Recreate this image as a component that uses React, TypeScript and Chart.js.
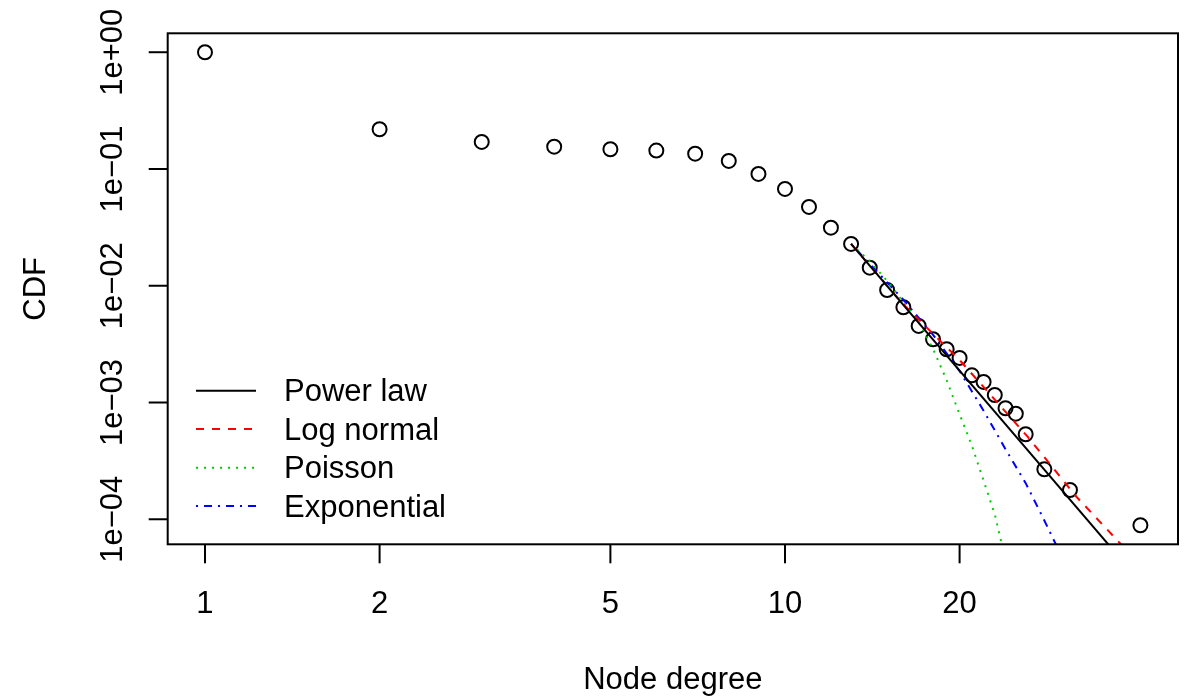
import React, { useEffect, useRef } from "react";
import { Chart, registerables } from "chart.js";

Chart.register(...registerables);

// Observed CDF (node degree vs CDF)
const degree = [1, 2, 3, 4, 5, 6, 7, 8, 9, 10, 11, 12, 13, 14, 15, 16, 17, 18, 19, 20, 21, 22, 23, 24, 25, 26, 28, 31, 41];
const cdf = [1, 0.219, 0.1705, 0.1553, 0.1476, 0.1437, 0.1353, 0.1172, 0.0907, 0.0675, 0.0473, 0.03145, 0.0228, 0.01429, 0.0092, 0.00654, 0.00453, 0.00348, 0.00286, 0.00241, 0.00171, 0.0015, 0.00116, 0.000893, 0.000802, 0.000535, 0.000268, 0.000178, 0.0000889];

// Fitted distributions
const powerX = [13, 41];
const powerY = [0.0228, 0.0000291];
const lognormX = [13, 16, 20, 26.2, 31.8, 37.8, 41];
const lognormY = [0.0228, 0.00692, 0.00231, 0.00051, 0.000156, 0.0000624, 0.0000398];
const poissonX = [13, 14, 15, 16, 17, 18, 19, 20, 21, 22, 23, 24];
const poissonY = [0.0228, 0.0162, 0.011, 0.00724, 0.0049, 0.00288, 0.00155, 0.000794, 0.000427, 0.000214, 0.00011, 0.0000447];
const expX = [13, 16, 18, 20, 22, 24, 26, 28, 30];
const expY = [0.0228, 0.00759, 0.0038, 0.00186, 0.000851, 0.000398, 0.000204, 0.0000977, 0.0000479];

const xTicks = [1, 2, 5, 10, 20];
const xTickLabels = ["1", "2", "5", "10", "20"];
const yTicks = [1, 0.1, 0.01, 0.001, 0.0001];
const yTickLabels = ["1e+00", "1e\u221201", "1e\u221202", "1e\u221203", "1e\u221204"];

const legendLabels = ["Power law", "Log normal", "Poisson", "Exponential"];
const legendColors = ["#000000", "#ff0000", "#00cd00", "#0000ff"];
const legendDashes: number[][] = [[], [8, 8], [2, 6], [2, 6, 8, 6]];

const FONT = '31px "Liberation Sans", Arial, Helvetica, sans-serif';

const zip = (xs: number[], ys: number[]) => xs.map((x, i) => ({ x, y: ys[i] }));

const axesPlugin = {
  id: "rAxes",
  afterDraw(chart: any) {
    const { ctx, chartArea } = chart;
    const xs = chart.scales.x;
    const ys = chart.scales.y;
    const { left, right, top, bottom } = chartArea;
    ctx.save();
    ctx.strokeStyle = "#000";
    ctx.fillStyle = "#000";
    ctx.lineWidth = 2;
    ctx.setLineDash([]);
    ctx.strokeRect(left, top, right - left, bottom - top);
    ctx.font = FONT;

    // x ticks
    ctx.textAlign = "center";
    ctx.textBaseline = "alphabetic";
    xTicks.forEach((v, i) => {
      const px = xs.getPixelForValue(v);
      ctx.beginPath();
      ctx.moveTo(px, bottom);
      ctx.lineTo(px, bottom + 19);
      ctx.stroke();
      ctx.fillText(xTickLabels[i], px, 613);
    });

    // y ticks
    yTicks.forEach((v, i) => {
      const py = ys.getPixelForValue(v);
      ctx.beginPath();
      ctx.moveTo(left - 19, py);
      ctx.lineTo(left, py);
      ctx.stroke();
      ctx.save();
      ctx.translate(122, py);
      ctx.rotate(-Math.PI / 2);
      ctx.fillText(yTickLabels[i], 0, 0);
      ctx.restore();
    });

    // axis titles
    ctx.fillText("Node degree", (left + right) / 2, 689);
    ctx.save();
    ctx.translate(45, (top + bottom) / 2);
    ctx.rotate(-Math.PI / 2);
    ctx.fillText("CDF", 0, 0);
    ctx.restore();

    // legend
    const rowsY = [390.7, 429, 467.7, 506];
    ctx.textAlign = "left";
    legendLabels.forEach((lab, i) => {
      const y = rowsY[i];
      ctx.save();
      ctx.strokeStyle = legendColors[i];
      ctx.lineWidth = 2;
      ctx.setLineDash(legendDashes[i]);
      ctx.beginPath();
      ctx.moveTo(196, y);
      ctx.lineTo(256, y);
      ctx.stroke();
      ctx.restore();
      ctx.fillText(lab, 284, y + 10.5);
    });
    ctx.restore();
  },
};

export default function App() {
  const ref = useRef<HTMLCanvasElement>(null);
  useEffect(() => {
    if (!ref.current) return;
    const lineDs = (label: string, xs: number[], ys: number[], color: string, dash: number[]) => ({
      type: "line" as const,
      label,
      data: zip(xs, ys),
      borderColor: color,
      backgroundColor: color,
      borderWidth: 2,
      borderDash: dash,
      pointRadius: 0,
      showLine: true,
      fill: false,
      tension: 0,
    });
    const chart = new Chart(ref.current, {
      type: "scatter",
      data: {
        datasets: [
          lineDs("Power law", powerX, powerY, legendColors[0], legendDashes[0]),
          lineDs("Log normal", lognormX, lognormY, legendColors[1], legendDashes[1]),
          lineDs("Poisson", poissonX, poissonY, legendColors[2], legendDashes[2]),
          lineDs("Exponential", expX, expY, legendColors[3], legendDashes[3]),
          {
            type: "scatter" as const,
            label: "CDF",
            data: zip(degree, cdf),
            pointStyle: "circle",
            pointRadius: 7,
            borderColor: "#000",
            backgroundColor: "rgba(0,0,0,0)",
            borderWidth: 2,
          },
        ] as any,
      },
      options: {
        animation: false,
        responsive: false,
        devicePixelRatio: 1,
        events: [],
        layout: { padding: { left: 167.7, right: 10, top: 33.3, bottom: 152.7 } },
        plugins: { legend: { display: false }, tooltip: { enabled: false } },
        scales: {
          x: { type: "logarithmic", min: Math.pow(10, -0.0643), max: Math.pow(10, 1.6776), display: false },
          y: { type: "logarithmic", min: Math.pow(10, -4.2144), max: Math.pow(10, 0.1621), display: false },
        },
      },
      plugins: [axesPlugin],
    });
    return () => chart.destroy();
  }, []);
  return (
    <div style={{ position: "absolute", left: 0, top: 0, width: 1188, height: 697, background: "#fff" }}>
      <canvas ref={ref} width={1188} height={697} style={{ width: 1188, height: 697, display: "block" }} />
    </div>
  );
}
